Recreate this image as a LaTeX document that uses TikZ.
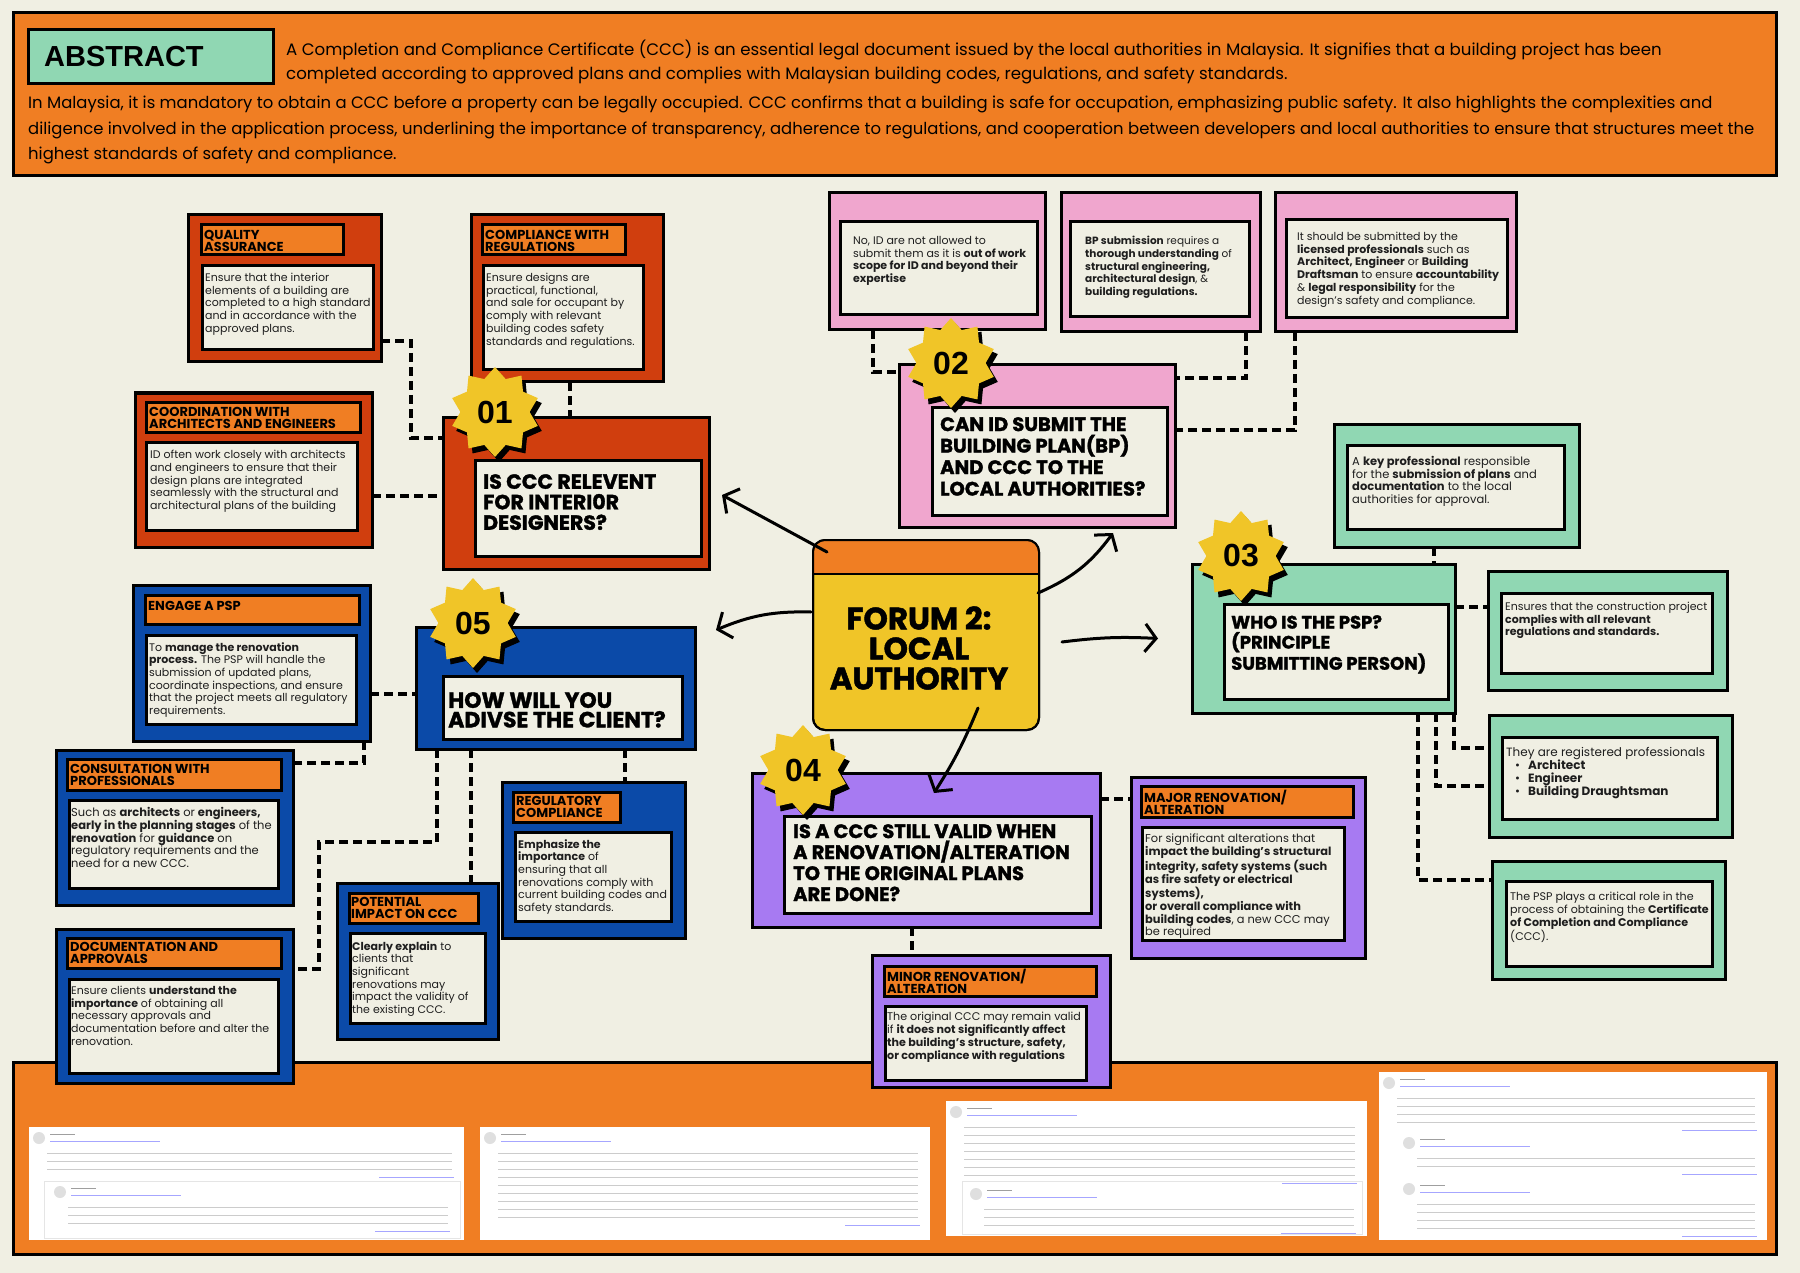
\documentclass[tikz,border=0pt]{standalone}
\usepackage{fontspec}
\setmainfont{Poppins}
\newfontfamily\arialf{Liberation Sans}
\newfontfamily\heavy{Poppins}[BoldFeatures={FakeBold=1.5}]
\usetikzlibrary{shapes.geometric,fit,shadows,arrows.meta}
\pgfdeclarelayer{bglayer}
\pgfsetlayers{bglayer,main}
\definecolor{bgc}{RGB}{240,239,227}
\definecolor{orng}{RGB}{240,126,35}
\definecolor{redc}{RGB}{208,62,14}
\definecolor{pinkc}{RGB}{240,166,206}
\definecolor{mint}{RGB}{144,215,179}
\definecolor{purp}{RGB}{167,122,242}
\definecolor{bluec}{RGB}{11,74,168}
\definecolor{yel}{RGB}{240,197,40}
\definecolor{cream}{RGB}{240,239,227}
\definecolor{txt}{RGB}{30,30,30}
\newcommand\fakepost[4]{%
 \fill[gray!25] (#1+10,#2+9) circle (6);
 \draw[fkd] (#1+21,#2+5) -- ++(25,0);
 \draw[fkb] (#1+21,#2+12) -- ++(110,0);
 \foreach \kk in {1,...,#4} {\draw[fk] (#1+18,#2+16+\kk*8) -- ++(#3-30,0);}
 \draw[fkb] (#1+#3-85,#2+24+#4*8) -- ++(75,0);
}
\begin{document}
\begin{tikzpicture}[x=1pt,y=-1pt,
 bx/.style={draw=black,line width=3pt,inner sep=0pt,outer sep=0pt},
 bt/.style={anchor=north west,inner sep=0pt,align=left,text=txt,font=\fontsize{11}{12.7}\selectfont},
 ht/.style={anchor=west,inner sep=0pt,align=left,text=black,font=\bfseries\fontsize{13}{12}\selectfont},
 qt/.style={anchor=north west,inner sep=0pt,align=left,text=black},
 st/.style={star,star points=10,star point ratio=1.3,minimum size=90pt,inner sep=0pt,fill=yel,font=\arialf\bfseries\fontsize{32}{32}\selectfont,drop shadow={fill=black,opacity=1,shadow xshift=4pt,shadow yshift=-5pt}},
 dl/.style={line width=4.5pt,dash pattern=on 9pt off 5pt},
 arr/.style={line width=3pt,line cap=round,-{Straight Barb[length=11pt,width=28pt]}},
 abst/.style={anchor=north west,inner sep=0pt,align=left,text=black},
 fk/.style={line width=1pt,draw=gray!40},
 fkd/.style={line width=1pt,draw=gray!75},
 fkb/.style={line width=1pt,draw=blue!35}
]
\begin{pgfonlayer}{bglayer}
\fill[bgc] (0,0) rectangle (1800,1273);
\end{pgfonlayer}
\useasboundingbox (0,0) rectangle (1800,1273);

% ---------- abstract ----------
\node[bx,fill=orng,fit={(13,13)(1776,176)}] (abs) {};
\node[bx,fill=mint,fit={(28,30)(273,84)}] (absbox) {};
\node[anchor=west,inner sep=0pt,font=\arialf\bfseries\fontsize{29}{29}\selectfont] (abslabel) at (44,57) {ABSTRACT};
\node[abst,font=\fontsize{16.6}{24}\selectfont] (abs1) at (286,40) {A Completion and Compliance Certificate (CCC) is an essential legal document issued by the local authorities in Malaysia. It signifies that a building project has been\\completed according to approved plans and complies with Malaysian building codes, regulations, and safety standards.};
\node[abst,font=\fontsize{16.45}{25.5}\selectfont] (abs2) at (28,96) {In Malaysia, it is mandatory to obtain a CCC before a property can be legally occupied. CCC confirms that a building is safe for occupation, emphasizing public safety. It also highlights the complexities and\\diligence involved in the application process, underlining the importance of transparency, adherence to regulations, and cooperation between developers and local authorities to ensure that structures meet the\\highest standards of safety and compliance.};

% ---------- bottom panel ----------
\begin{pgfonlayer}{bglayer}
\node[bx,fill=orng,fit={(13,1062)(1776,1254)}] (bottom) {};
\fill[white] (29,1127) rectangle (464,1240);
\fill[white] (480,1127) rectangle (930,1240);
\fill[white] (946,1101) rectangle (1367,1236);
\fill[white] (1379,1072) rectangle (1767,1240);
\fakepost{29}{1129}{435}{3}
\draw[gray!20,line width=1pt] (44,1181) rectangle (460,1238);
\fakepost{50}{1183}{410}{3}
\fakepost{480}{1129}{450}{9}
\fakepost{946}{1103}{421}{7}
\draw[gray!20,line width=1pt] (962,1181) rectangle (1362,1234);
\fakepost{966}{1185}{400}{3}
\fakepost{1379}{1074}{388}{4}
\fakepost{1399}{1134}{368}{2}
\fakepost{1399}{1180}{368}{4}
\end{pgfonlayer}

% ---------- section 01 ----------
\node[bx,fill=redc,fit={(188,215)(381,362)}] (qa) {};
\node[bx,fill=orng,fit={(201,225)(343,255)}] (qaH) {};
\node[bx,fill=cream,fit={(202,266)(373,350)}] (qaI) {};
\node[ht] (qaHT) at (204,241) {QUALITY\\ASSURANCE};
\node[bt] (qaT) at (205,273) {Ensure that the interior\\elements of a building are\\completed to a high standard\\and in accordance with the\\approved plans.};

\node[bx,fill=redc,fit={(471,215)(663,382)}] (cr) {};
\node[bx,fill=orng,fit={(482,225)(625,255)}] (crH) {};
\node[bx,fill=cream,fit={(483,266)(643,370)}] (crI) {};
\node[ht] (crHT) at (485,241) {COMPLIANCE WITH\\REGULATIONS};
\node[bt] (crT) at (486,273) {Ensure designs are\\practical, functional,\\and sale for occupant by\\comply with relevant\\building codes safety\\standards and regulations.};

\node[bx,fill=redc,fit={(135,393)(372,547)}] (co) {};
\node[bx,fill=orng,fit={(146,402)(360,432)}] (coH) {};
\node[bx,fill=cream,fit={(146,442)(357,530)}] (coI) {};
\node[ht] (coHT) at (149,418) {COORDINATION WITH\\ARCHITECTS AND ENGINEERS};
\node[bt] (coT) at (150,450) {ID often work closely with architects\\and engineers to ensure that their\\design plans are integrated\\seamlessly with the structural and\\architectural plans of the building};

\node[bx,fill=redc,fit={(443,417)(709,569)}] (q1) {};
\node[bx,fill=cream,fit={(475,460)(701,556)}] (q1I) {};
\node[qt,font=\heavy\bfseries\fontsize{20.5}{20.5}\selectfont] (q1T) at (483,474) {IS CCC RELEVENT\\FOR INTERI0R\\DESIGNERS?};

% ---------- section 02 ----------
\node[bx,fill=pinkc,fit={(829,193)(1045,330)}] (pa) {};
\node[bx,fill=cream,fit={(840,222)(1037,315)}] (paI) {};
\node[bt] (paT) at (853,236) {No, ID are not allowed to\\submit them as it is \textbf{out of work}\\\textbf{scope for ID and beyond their}\\\textbf{expertise}};

\node[bx,fill=pinkc,fit={(1061,193)(1260,332)}] (pb) {};
\node[bx,fill=cream,fit={(1070,222)(1249,317)}] (pbI) {};
\node[bt,font=\fontsize{10.5}{12.7}\selectfont] (pbT) at (1085,236) {\textbf{BP submission} requires a\\\textbf{thorough understanding} of\\\textbf{structural engineering,}\\\textbf{architectural design}, \&\\\textbf{building regulations.}};

\node[bx,fill=pinkc,fit={(1275,193)(1516,332)}] (pc) {};
\node[bx,fill=cream,fit={(1286,220)(1507,318)}] (pcI) {};
\node[bt] (pcT) at (1297,232) {It should be submitted by the\\\textbf{licensed professionals} such as\\\textbf{Architect, Engineer} or \textbf{Building}\\\textbf{Draftsman} to ensure \textbf{accountability}\\\& \textbf{legal responsibility} for the\\design's safety and compliance.};

\node[bx,fill=pinkc,fit={(899,365)(1175,527)}] (q2) {};
\node[bx,fill=cream,fit={(932,407)(1167,515)}] (q2I) {};
\node[qt,font=\heavy\bfseries\fontsize{19.5}{21.5}\selectfont] (q2T) at (940,417) {CAN ID SUBMIT THE\\BUILDING PLAN(BP)\\AND CCC TO THE\\LOCAL AUTHORITIES?};

% ---------- section 03 ----------
\node[bx,fill=mint,fit={(1334,424)(1579,547)}] (ta) {};
\node[bx,fill=cream,fit={(1347,445)(1564,529)}] (taI) {};
\node[bt,font=\fontsize{11.5}{12.7}\selectfont] (taT) at (1352,456) {A \textbf{key professional} responsible\\for the \textbf{submission of plans} and\\\textbf{documentation} to the local\\authorities for approval.};

\node[bx,fill=mint,fit={(1192,564)(1455,713)}] (q3) {};
\node[bx,fill=cream,fit={(1224,604)(1448,699)}] (q3I) {};
\node[qt,font=\heavy\bfseries\fontsize{18}{20}\selectfont] (q3T) at (1231,615) {WHO IS THE PSP?\\(PRINCIPLE\\SUBMITTING PERSON)};

\node[bx,fill=mint,fit={(1488,571)(1727,690)}] (tb) {};
\node[bx,fill=cream,fit={(1501,593)(1712,673)}] (tbI) {};
\node[bt] (tbT) at (1505,602) {Ensures that the construction project\\\textbf{complies with all relevant}\\\textbf{regulations and standards.}};

\node[bx,fill=mint,fit={(1489,715)(1732,837)}] (tc) {};
\node[bx,fill=cream,fit={(1502,737)(1717,819)}] (tcI) {};
\node[bt,font=\fontsize{12}{13}\selectfont] (tcT) at (1506,747) {They are registered professionals\\\hspace*{9pt}\textbullet\hspace*{8pt}\textbf{Architect}\\\hspace*{9pt}\textbullet\hspace*{8pt}\textbf{Engineer}\\\hspace*{9pt}\textbullet\hspace*{8pt}\textbf{Building Draughtsman}};

\node[bx,fill=mint,fit={(1492,861)(1725,979)}] (td) {};
\node[bx,fill=cream,fit={(1506,881)(1712,966)}] (tdI) {};
\node[bt,font=\fontsize{11.1}{12.7}\selectfont] (tdT) at (1510,892) {The PSP plays a critical role in the\\process of obtaining the \textbf{Certificate}\\\textbf{of Completion and Compliance}\\(CCC).};

% ---------- section 04 ----------
\node[bx,fill=purp,fit={(752,773)(1100,927)}] (q4) {};
\node[bx,fill=cream,fit={(784,816)(1091,913)}] (q4I) {};
\node[qt,font=\heavy\bfseries\fontsize{19.5}{21}\selectfont] (q4T) at (793,824) {IS A CCC STILL VALID WHEN\\A RENOVATION/ALTERATION\\TO THE ORIGINAL PLANS\\ARE DONE?};

\node[bx,fill=purp,fit={(1131,777)(1365,958)}] (mj) {};
\node[bx,fill=orng,fit={(1141,786)(1353,817)}] (mjH) {};
\node[bx,fill=cream,fit={(1142,827)(1344,940)}] (mjI) {};
\node[ht] (mjHT) at (1144,802) {MAJOR RENOVATION/\\ALTERATION};
\node[bt,font=\fontsize{11.4}{12.8}\selectfont] (mjT) at (1145,834) {For significant alterations that\\\textbf{impact the building’s structural}\\\textbf{integrity, safety systems (such}\\\textbf{as fire safety or electrical}\\\textbf{systems),}\\\textbf{or overall compliance with}\\\textbf{building codes}, a new CCC may\\be required};

\node[bx,fill=purp,fit={(872,955)(1110,1087)}] (mn) {};
\node[bx,fill=orng,fit={(884,966)(1096,996)}] (mnH) {};
\node[bx,fill=cream,fit={(885,1006)(1086,1080)}] (mnI) {};
\node[ht] (mnHT) at (887,981) {MINOR RENOVATION/\\ALTERATION};
\node[bt,font=\fontsize{11.1}{12.8}\selectfont] (mnT) at (887,1012) {The original CCC may remain valid\\if \textbf{it does not significantly affect}\\\textbf{the building’s structure, safety,}\\\textbf{or compliance with regulations}};

% ---------- section 05 ----------
\node[bx,fill=bluec,fit={(416,627)(695,749)}] (q5) {};
\node[bx,fill=cream,fit={(443,676)(682,739)}] (q5I) {};
\node[qt,font=\heavy\bfseries\fontsize{22}{19.5}\selectfont] (q5T) at (448,692) {HOW WILL YOU\\ADIVSE THE CLIENT?};

\node[bx,fill=bluec,fit={(133,585)(370,741)}] (en) {};
\node[bx,fill=orng,fit={(145,595)(359,624)}] (enH) {};
\node[bx,fill=cream,fit={(146,635)(356,724)}] (enI) {};
\node[ht] (enHT) at (148,606) {ENGAGE A PSP};
\node[bt] (enT) at (149,642) {To \textbf{manage the renovation}\\\textbf{process.} The PSP will handle the\\submission of updated plans,\\coordinate inspections, and ensure\\that the project meets all regulatory\\requirements.};

\node[bx,fill=bluec,fit={(56,750)(293,905)}] (cs) {};
\node[bx,fill=orng,fit={(67,759)(281,790)}] (csH) {};
\node[bx,fill=cream,fit={(69,800)(278,888)}] (csI) {};
\node[ht] (csHT) at (70,775) {CONSULTATION WITH\\PROFESSIONALS};
\node[bt,font=\fontsize{11.5}{12.8}\selectfont] (csT) at (71,807) {Such as \textbf{architects} or \textbf{engineers,}\\\textbf{early in the planning stages} of the\\\textbf{renovation} for \textbf{guidance} on\\regulatory requirements and the\\need for a new CCC.};

\node[bx,fill=bluec,fit={(56,929)(293,1083)}] (dc) {};
\node[bx,fill=orng,fit={(67,938)(281,968)}] (dcH) {};
\node[bx,fill=cream,fit={(69,979)(278,1073)}] (dcI) {};
\node[ht] (dcHT) at (70,953) {DOCUMENTATION AND\\APPROVALS};
\node[bt] (dcT) at (71,986) {Ensure clients \textbf{understand the}\\\textbf{importance} of obtaining all\\necessary approvals and\\documentation before and alter the\\renovation.};

\node[bx,fill=bluec,fit={(337,883)(498,1039)}] (pt) {};
\node[bx,fill=orng,fit={(349,893)(478,923)}] (ptH) {};
\node[bx,fill=cream,fit={(350,933)(485,1023)}] (ptI) {};
\node[ht] (ptHT) at (351,908) {POTENTIAL\\IMPACT ON CCC};
\node[bt] (ptT) at (352,941) {\textbf{Clearly explain} to\\clients that\\significant\\renovations may\\impact the validity of\\the existing CCC.};

\node[bx,fill=bluec,fit={(502,782)(685,938)}] (rg) {};
\node[bx,fill=orng,fit={(513,792)(620,822)}] (rgH) {};
\node[bx,fill=cream,fit={(515,832)(671,921)}] (rgI) {};
\node[ht] (rgHT) at (516,807) {REGULATORY\\COMPLIANCE};
\node[bt] (rgT) at (518,839) {\textbf{Emphasize the}\\\textbf{importance} of\\ensuring that all\\renovations comply with\\current building codes and\\safety standards.};

% ---------- forum ----------
\node[draw=black,line width=2pt,rounded corners=12pt,fill=yel,minimum width=226pt,minimum height=190pt,inner sep=0pt] (forum) at (926,635) {};
\begin{scope}
\clip (800,530) rectangle (1050,574);
\fill[orng,rounded corners=12pt] (813,540) rectangle (1039,730);
\end{scope}
\draw[line width=2pt,rounded corners=12pt] (813,540) rectangle (1039,730);
\draw[line width=2pt] (813,574) -- (1039,574);
\node[inner sep=0pt,align=center,font=\heavy\bfseries\fontsize{31}{30}\selectfont] (forumT) at (919,648) {FORUM 2:\\LOCAL\\AUTHORITY};

% ---------- stars ----------
\node[st] (s1) at (495,412) {01};
\node[st] (s2) at (951,363) {02};
\node[st] (s3) at (1241,556) {03};
\node[st] (s4) at (803,770) {04};
\node[st] (s5) at (473,623) {05};

% ---------- dashed connectors ----------
\begin{pgfonlayer}{bglayer}
\draw[dl] (qa.east |- 0,341) -- (411,341) -- (411,438) -- (q1.west |- 0,438);
\draw[dl] (cr.south -| 570,0) -- (q1.north -| 570,0);
\draw[dl] (co.east |- 0,496) -- (q1.west |- 0,496);
\draw[dl] (pa.south -| 873,0) -- (873,372) -- (q2.west |- 0,372);
\draw[dl] (pb.south -| 1246,0) -- (1246,378) -- (q2.east |- 0,378);
\draw[dl] (pc.south -| 1295,0) -- (1295,430) -- (q2.east |- 0,430);
\draw[dl] (ta.south -| 1434,0) -- (q3.north -| 1434,0);
\draw[dl] (q3.east |- 0,607) -- (tb.west |- 0,607);
\draw[dl] (q3.south -| 1454,0) -- (1454,748) -- (tc.west |- 0,748);
\draw[dl] (q3.south -| 1436,0) -- (1436,786) -- (tc.west |- 0,786);
\draw[dl] (q3.south -| 1418,0) -- (1418,880) -- (td.west |- 0,880);
\draw[dl] (q4.east |- 0,799) -- (mj.west |- 0,799);
\draw[dl] (q4.south -| 912,0) -- (mn.north -| 912,0);
\draw[dl] (en.east |- 0,694) -- (q5.west |- 0,694);
\draw[dl] (en.south -| 364,0) -- (364,763) -- (cs.east |- 0,763);
\draw[dl] (q5.south -| 437,0) -- (437,842) -- (319,842) -- (319,969) -- (dc.east |- 0,969);
\draw[dl] (q5.south -| 471,0) -- (pt.north -| 471,0);
\draw[dl] (q5.south -| 625,0) -- (rg.north -| 625,0);
\end{pgfonlayer}

% ---------- arrows ----------
\draw[arr] ([shift={(15,13)}]forum.north west) -- ([shift={(13,2)}]q1.east);
\draw[arr] ([shift={(-2,-42)}]forum.east) to[bend right=15] ([shift={(76,6)}]q2.south);
\draw[arr] ([shift={(-1,-23)}]forum.west) to[bend right=12] ([shift={(21,-58)}]q5.east);
\draw[arr] ([shift={(22,7)}]forum.east) to[bend left=5] ([shift={(-34,0)}]q3.west);
\draw[arr] ([shift={(52,-23)}]forum.south) to[bend left=5] ([shift={(8,20)}]q4.north);
\end{tikzpicture}
\end{document}
